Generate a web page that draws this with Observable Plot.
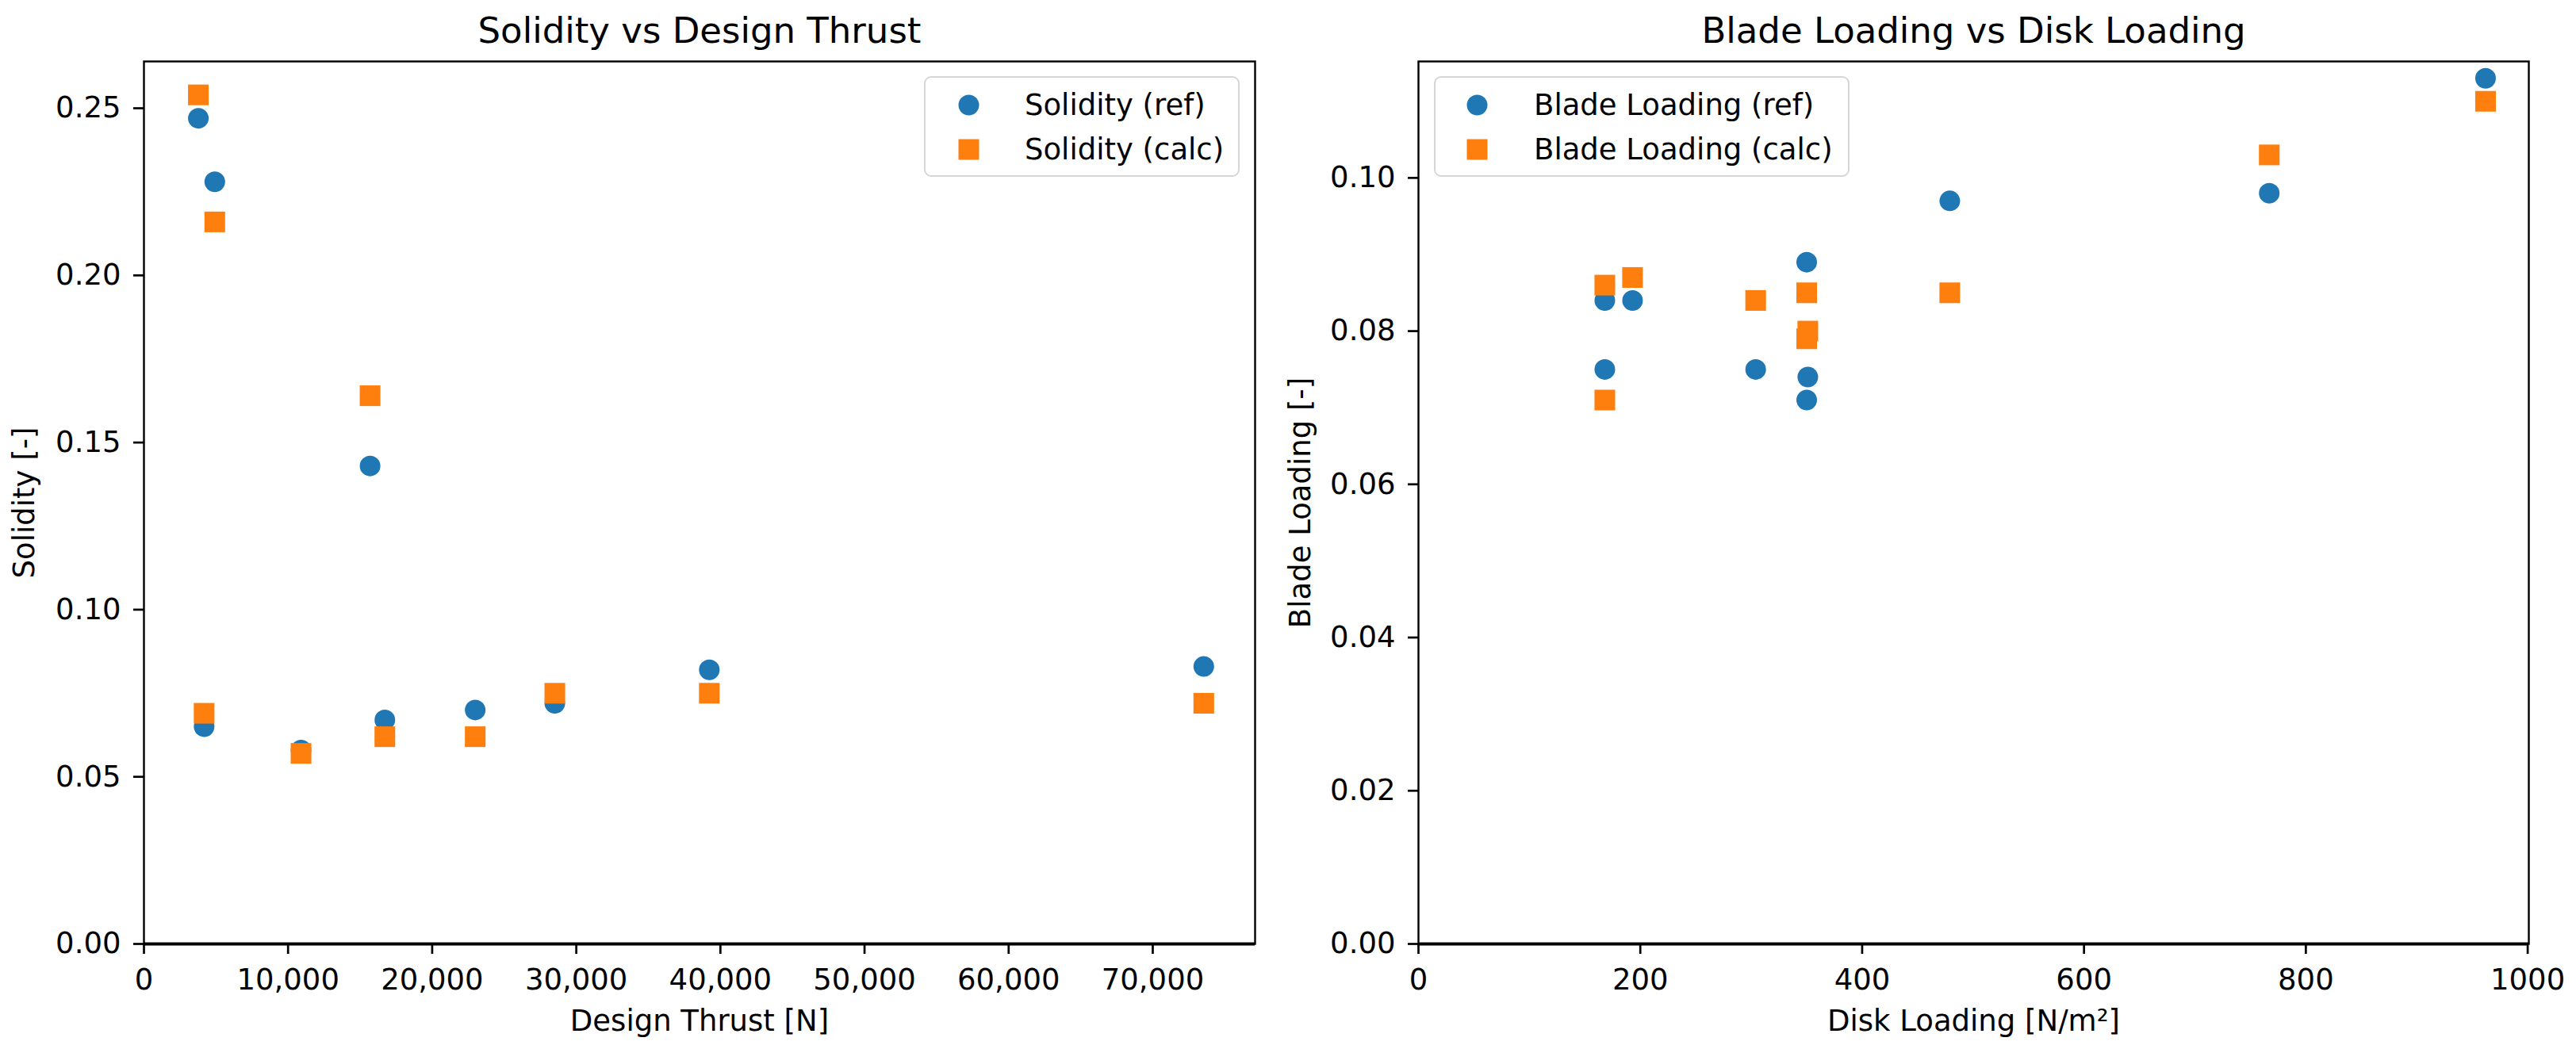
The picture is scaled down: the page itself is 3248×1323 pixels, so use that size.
<!DOCTYPE html>
<html><head><meta charset="utf-8">
<script src="https://cdn.jsdelivr.net/npm/d3@7"></script>
<script src="https://cdn.jsdelivr.net/npm/@observablehq/plot@0.6"></script>
<style>
body{margin:0;background:#fff}
#fig{position:relative;width:3248px;height:1323px;background:#fff;font-family:"DejaVu Sans",sans-serif;overflow:hidden}
.panel{position:absolute;top:0;overflow:visible}
.legend{position:absolute;box-sizing:border-box;border:2.7px solid #d6d6d6;border-radius:9px;background:rgba(255,255,255,0.8)}
.item{position:absolute;left:0;height:40px;display:flex;align-items:center;font-size:37px;color:#000;white-space:nowrap}
</style>
</head><body><div id="fig"></div>
<script>
// ---- data ----
const thrust       = [3775, 4175, 4915, 10900, 15690, 16715, 22985, 28510, 39230, 73540];
const solidityRef  = [0.247, 0.065, 0.228, 0.058, 0.143, 0.067, 0.070, 0.072, 0.082, 0.083];
const solidityCalc = [0.254, 0.069, 0.216, 0.057, 0.164, 0.062, 0.062, 0.075, 0.075, 0.072];

const diskLoading  = [168, 168, 193, 304, 350, 351, 350, 479, 767, 962];
const bladeRef     = [0.084, 0.075, 0.084, 0.075, 0.089, 0.074, 0.071, 0.097, 0.098, 0.113];
const bladeCalc    = [0.086, 0.071, 0.087, 0.084, 0.085, 0.080, 0.079, 0.085, 0.103, 0.110];

const thrustTicks   = [0, 10000, 20000, 30000, 40000, 50000, 60000, 70000];
const solidityTicks = [0, 0.05, 0.10, 0.15, 0.20, 0.25];
const diskTicks     = [0, 200, 400, 600, 800, 1000];
const bladeTicks    = [0, 0.02, 0.04, 0.06, 0.08, 0.10];

const BLUE = "#1f77b4", ORANGE = "#ff7f0e";
const fig = document.getElementById("fig");

function panel(o) {
  const ref = o.xs.map((x, i) => ({x, y: o.yRef[i]}));
  const calc = o.xs.map((x, i) => ({x, y: o.yCalc[i]}));
  const chart = Plot.plot({
    width: o.width, height: 1323,
    marginLeft: o.mL, marginRight: o.mR, marginTop: 77, marginBottom: 133,
    style: {fontSize: "37px", fontFamily: "DejaVu Sans", background: "transparent", color: "black", overflow: "visible"},
    x: {domain: o.xDomain},
    y: {domain: o.yDomain},
    marks: [
      Plot.axisX({ticks: o.xTicks, tickFormat: o.xFmt, tickSize: 13, tickPadding: 18, strokeWidth: 2.7, label: null}),
      Plot.axisY({ticks: o.yTicks, tickFormat: o.yFmt, tickSize: 13, tickPadding: 16, strokeWidth: 2.7, label: null}),
      Plot.dot(ref, {x: "x", y: "y", r: 13, symbol: "circle", fill: BLUE}),
      Plot.dot(calc, {x: "x", y: "y", r: 14.7, symbol: "square", fill: ORANGE}),
      Plot.frame({stroke: "black", strokeWidth: 2.4}),
      Plot.ruleY([0], {stroke: "black", strokeWidth: 4}),
      Plot.text([o.title], {text: d => d, frameAnchor: "top", dy: -38, fontSize: 45, lineAnchor: "middle", textAnchor: "middle"}),
      Plot.text([o.xLabel], {text: d => d, frameAnchor: "bottom", dy: 98, fontSize: 37, lineAnchor: "middle", textAnchor: "middle"}),
      Plot.text([o.yLabel], {text: d => d, frameAnchor: "left", dx: o.yLabDx, rotate: -90, fontSize: 37, lineAnchor: "middle", textAnchor: "middle"})
    ]
  });
  chart.classList.add("panel");
  chart.style.left = o.left + "px";
  fig.appendChild(chart);

  // legend
  const lg = document.createElement("div");
  lg.className = "legend";
  lg.style.left = o.lg.x + "px";
  lg.style.top = "96px";
  lg.style.width = o.lg.w + "px";
  lg.style.height = "127px";
  o.labels.forEach((lab, i) => {
    const it = document.createElement("div");
    it.className = "item";
    it.style.top = (i === 0 ? 37 - 20 - 2.7 : 93 - 20 - 2.7) + "px";
    const sw = i === 0
      ? `<svg width="27" height="27" style="position:absolute;left:${o.lg.sx - 13.5}px"><circle cx="13.5" cy="13.5" r="13" fill="${BLUE}"/></svg>`
      : `<svg width="27" height="27" style="position:absolute;left:${o.lg.sx - 13.5}px"><rect x="0.5" y="0.5" width="26" height="26" fill="${ORANGE}"/></svg>`;
    it.innerHTML = sw + `<span style="position:absolute;left:${o.lg.tx}px">${lab}</span>`;
    lg.appendChild(it);
  });
  fig.appendChild(lg);
}

panel({
  left: 0, width: 1604, mL: 181, mR: 22,
  xs: thrust, yRef: solidityRef, yCalc: solidityCalc,
  xDomain: [0, 77100], yDomain: [0, 0.264],
  xTicks: thrustTicks, yTicks: solidityTicks,
  xFmt: d3.format(","), yFmt: d3.format(".2f"),
  title: "Solidity vs Design Thrust", xLabel: "Design Thrust [N]", yLabel: "Solidity [-]",
  yLabDx: 31 - 181,
  labels: ["Solidity (ref)", "Solidity (calc)"],
  lg: {x: 1165, w: 398, sx: 1219 - 1165, tx: 1290 - 1165}
});

panel({
  left: 1604, width: 1644, mL: 184, mR: 60,
  xs: diskLoading, yRef: bladeRef, yCalc: bladeCalc,
  xDomain: [0, 1001], yDomain: [0, 0.1152],
  xTicks: diskTicks, yTicks: bladeTicks,
  xFmt: d3.format("d"), yFmt: d3.format(".2f"),
  title: "Blade Loading vs Disk Loading", xLabel: "Disk Loading [N/m²]", yLabel: "Blade Loading [-]",
  yLabDx: 1640 - 1788,
  labels: ["Blade Loading (ref)", "Blade Loading (calc)"],
  lg: {x: 1808, w: 524, sx: 1860 - 1808, tx: 1932 - 1808}
});
</script>
</body></html>
